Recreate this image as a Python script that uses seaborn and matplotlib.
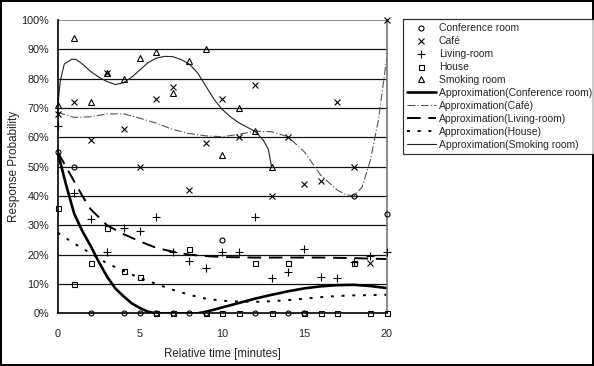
import numpy as np
import pandas as pd
import matplotlib
matplotlib.use("Agg")
import matplotlib.pyplot as plt
from matplotlib.lines import Line2D
import seaborn as sns

# ---- observed points (minutes, percent) ----
conf_t = [0, 1, 2, 4, 5, 6, 7, 8, 9, 10, 12, 14, 15, 18, 20]
conf_v = [55, 50, 0, 0, 0, 0, 0, 0, 0, 25, 0, 0, 0, 40, 34]

cafe_t = [0, 1, 2, 3, 4, 5, 6, 7, 8, 9, 10, 11, 12, 13, 14, 15, 16, 17, 18, 19, 20]
cafe_v = [68, 72, 59, 82, 63, 50, 73, 77, 42, 58, 73, 60, 78, 40, 60, 44, 45, 72, 50, 17, 100]

living_t = [0, 1, 2, 3, 4, 5, 6, 7, 8, 9, 10, 11, 12, 13, 14, 15, 16, 17, 18, 19, 20]
living_v = [64, 41, 32, 21, 29, 28, 33, 21, 18, 15.5, 21, 21, 33, 12, 14, 22, 12.5, 12, 17.5, 19.5, 21]

house_t = [0, 1, 2, 3, 4, 5, 6, 7, 8, 9, 10, 11, 12, 13, 14, 15, 16, 17, 18, 19, 20]
house_v = [36, 10, 17, 29, 14.5, 12.5, 0, 0, 22, 0, 0, 0, 17, 0, 17, 0, 0, 0, 17, 0, 0]

smoke_t = [0, 1, 2, 3, 4, 5, 6, 7, 8, 9, 10, 11, 12, 13]
smoke_v = [71, 94, 72, 82, 80, 87, 89, 75, 86, 90, 54, 70, 62, 50]

# ---- approximation curves ----
conf_fit_t = [0, 0.5, 1, 1.5, 2, 2.5, 3, 3.5, 4, 4.5, 5, 5.5, 6, 7, 8, 8.5, 9, 10, 11, 12, 13, 14, 15, 16, 17, 18, 19, 20]
conf_fit_v = [55, 44, 34, 28, 23, 17.5, 12.5, 8.5, 5.8, 3.4, 1.8, 0.5, 0, 0, 0, 0, 0.5, 2, 3.5, 5, 6.3, 7.5, 8.5, 9.2, 9.6, 9.7, 9.3, 8.6]

cafe_fit_t = [0, 1, 2, 3, 4, 5, 6, 7, 8, 9, 10, 11, 12, 13, 14, 15, 16, 17, 17.5, 18, 18.5, 19, 19.5, 20]
cafe_fit_v = [68.5, 66.8, 67, 68, 68, 66.5, 64.8, 62.7, 61.3, 60.5, 60.2, 61, 62.1, 61.9, 60.2, 55, 47, 42, 40.5, 40, 43, 52, 66, 87]

living_fit_t = [0, 0.5, 1, 1.5, 2, 3, 4, 5, 6, 7, 8, 9, 10, 12, 14, 16, 18, 20]
living_fit_v = [55, 50, 45, 40, 35.5, 30, 27, 24.5, 22.3, 21, 20, 19.5, 19.2, 19, 19, 19, 18.8, 18.5]

house_fit_t = [0, 1, 2, 3, 4, 5, 6, 7, 8, 9, 10, 11, 12, 13, 14, 15, 16, 17, 18, 19, 20]
house_fit_v = [27.5, 23.8, 20.5, 17, 14.5, 12, 10, 8, 6.3, 5, 4.3, 4, 3.9, 4.1, 4.5, 5, 5.5, 5.9, 6.1, 6.2, 6.3]

smoke_fit_t = [0, 0.15, 0.4, 0.85, 1.1, 1.5, 2, 2.5, 3, 3.5, 4, 4.5, 5, 5.5, 6, 6.5, 7, 7.5, 8, 8.5, 9, 9.5, 10, 10.5, 11, 11.5, 12, 12.5, 12.8, 13]
smoke_fit_v = [70, 79, 85, 86.6, 86.6, 85, 82.5, 80.5, 79, 78, 78.6, 80.5, 83, 85.5, 87, 87.6, 87.5, 86.5, 85, 82, 77.5, 73, 69.5, 67, 65, 63.5, 62, 59, 56, 50]

labels = ["Conference room", "Café", "Living-room", "House", "Smoking room"]
x_ticks = [0, 5, 10, 15, 20]
y_ticks = [0, 10, 20, 30, 40, 50, 60, 70, 80, 90, 100]

sns.set_style("white")
plt.rcParams["font.family"] = ["Liberation Sans", "DejaVu Sans"]
plt.rcParams["font.size"] = 7.5

fig = plt.figure(figsize=(5.94, 3.66), dpi=100)
fig.patch.set_edgecolor("black")
fig.patch.set_linewidth(1.6)
ax = fig.add_axes([57.7 / 594, 1 - 313.3 / 366, (386.7 - 57.7) / 594, (313.3 - 20) / 366])

# gridlines
for yv in y_ticks[1:-1]:
    ax.axhline(yv, color="#111111", lw=0.9, zorder=0)
ax.axhline(100, color="#777777", lw=1.2, zorder=0)

marker_specs = [
    (conf_t, conf_v, "o", dict(markerfacecolor="none", markersize=3.6)),
    (cafe_t, cafe_v, "x", dict(markersize=4.6)),
    (living_t, living_v, "+", dict(markersize=5.2)),
    (house_t, house_v, "s", dict(markerfacecolor="none", markersize=3.6)),
    (smoke_t, smoke_v, "^", dict(markerfacecolor="none", markersize=4.2)),
]
for t, v, m, kw in marker_specs:
    df = pd.DataFrame({"t": t, "v": v})
    sns.lineplot(data=df, x="t", y="v", ax=ax, estimator=None, sort=False,
                 marker=m, linestyle="", color="black", markeredgecolor="black",
                 markeredgewidth=0.8, zorder=3, clip_on=False, **kw)

line_specs = [
    (conf_fit_t, conf_fit_v, dict(color="black", lw=1.9, linestyle="-")),
    (cafe_fit_t, cafe_fit_v, dict(color="#555555", lw=0.8, linestyle=(0, (7, 2, 1, 2)))),
    (living_fit_t, living_fit_v, dict(color="black", lw=1.4, linestyle=(0, (7, 4)))),
    (house_fit_t, house_fit_v, dict(color="black", lw=1.4, linestyle=(0, (1.5, 4)))),
    (smoke_fit_t, smoke_fit_v, dict(color="#222222", lw=0.8, linestyle="-")),
]
for t, v, kw in line_specs:
    df = pd.DataFrame({"t": t, "v": v})
    sns.lineplot(data=df, x="t", y="v", ax=ax, estimator=None, sort=False, zorder=2, **kw)

ax.set_xlim(0, 20)
ax.set_ylim(0, 100)
ax.set_xticks(x_ticks)
ax.set_xticklabels([str(x) for x in x_ticks])
ax.set_yticks(y_ticks)
ax.set_yticklabels([f"{y}%" for y in y_ticks])
ax.tick_params(axis="both", length=0, labelsize=7.8, colors="#222222")
ax.tick_params(axis="x", pad=11)
ax.tick_params(axis="y", pad=6)
ax.set_xlabel("Relative time [minutes]", fontsize=8.3, labelpad=7)
ax.set_ylabel("Response Probability", fontsize=8.5, labelpad=1)
for s in ["left", "bottom"]:
    ax.spines[s].set_color("black")
    ax.spines[s].set_linewidth(1.2)
ax.spines["right"].set_color("#777777")
ax.spines["right"].set_linewidth(1.2)
ax.spines["top"].set_visible(False)
ax.patch.set_alpha(0)

handles = []
for (t, v, m, kw) in marker_specs:
    handles.append(Line2D([], [], linestyle="", marker=m, color="black",
                          markeredgecolor="black", markeredgewidth=0.8, **kw))
for (t, v, kw) in line_specs:
    handles.append(Line2D([], [], **kw))
leg_labels = labels + [f"Approximation({l})" for l in labels]
leg = fig.legend(handles, leg_labels, loc="upper left",
                 bbox_to_anchor=(402.7 / 594, 1 - 19.3 / 366),
                 frameon=True, fancybox=False, fontsize=7.5,
                 handlelength=2.8, handletextpad=0.25, labelspacing=0.28,
                 borderpad=0.4, borderaxespad=0)
leg.get_frame().set_edgecolor("black")
leg.get_frame().set_linewidth(0.9)

fig.savefig("out.png", dpi=100)
